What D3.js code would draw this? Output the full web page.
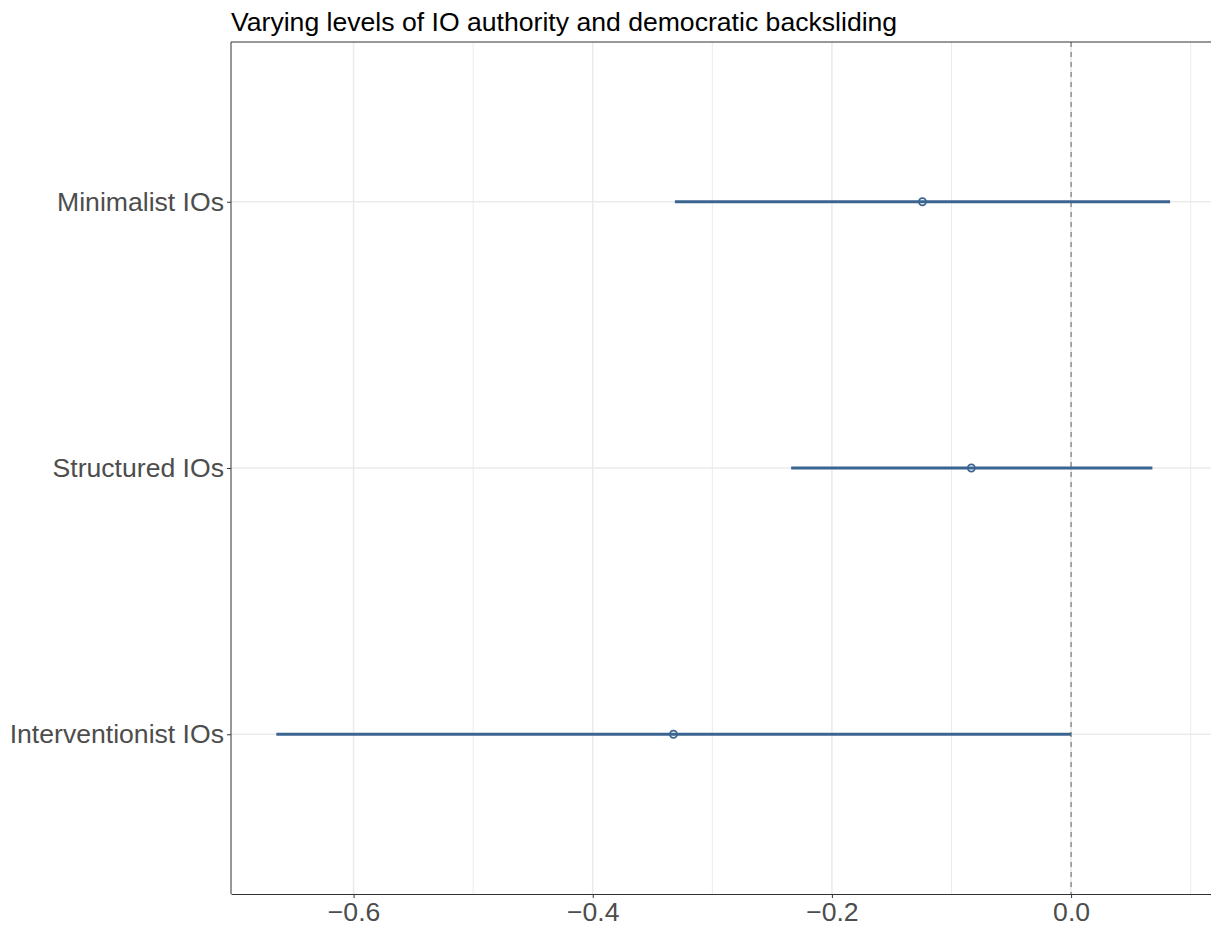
<!DOCTYPE html>
<html>
<head>
<meta charset="utf-8">
<script src="https://cdn.jsdelivr.net/npm/d3@7"></script>
<style>
  body { margin: 0; background: #fff; }
  svg { display: block; font-family: "Liberation Sans", Arial, Helvetica, sans-serif; }
</style>
</head>
<body>
<svg id="drawing_region"></svg>
<script>
// estimates
const categories = ["Minimalist IOs", "Structured IOs", "Interventionist IOs"];
const estimates = [-0.1243, -0.0834, -0.3325];
const lower = [-0.3313, -0.2341, -0.6646];
const upper = [0.0828, 0.0680, 0.0];
const xTicks = [-0.6, -0.4, -0.2, 0.0];
const xMinor = [-0.5, -0.3, -0.1, 0.1];

const data = categories.map((c, i) => ({ label: c, est: estimates[i], lo: lower[i], hi: upper[i] }));

const config = {
    width: 1211,
    height: 927,
    margin: { top: 42, right: 0, bottom: 33, left: 231 }
};

const svg = d3.select('#drawing_region')
    .attr('width', config.width)
    .attr('height', config.height);

const x0 = config.margin.left;
const x1 = config.width - config.margin.right;
const y0 = config.margin.top;
const y1 = config.height - config.margin.bottom;

const x = d3.scaleLinear()
    .domain([-0.7025, 0.117])
    .range([x0, x1]);

const y = d3.scalePoint()
    .domain(categories)
    .range([y0, y1])
    .padding(0.6);

const lineColor = '#3b6591';
const fontSize = '26.6px';

// grid
svg.append('g').selectAll('line')
    .data(xMinor)
    .join('line')
    .attr('x1', d => x(d)).attr('x2', d => x(d))
    .attr('y1', y0).attr('y2', y1)
    .attr('stroke', '#ebebeb').attr('stroke-width', 1);

svg.append('g').selectAll('line')
    .data(xTicks)
    .join('line')
    .attr('x1', d => x(d)).attr('x2', d => x(d))
    .attr('y1', y0).attr('y2', y1)
    .attr('stroke', '#ebebeb').attr('stroke-width', 1.6);

svg.append('g').selectAll('line')
    .data(categories)
    .join('line')
    .attr('x1', x0).attr('x2', x1)
    .attr('y1', d => y(d)).attr('y2', d => y(d))
    .attr('stroke', '#ebebeb').attr('stroke-width', 1.6);

// zero line
svg.append('line')
    .attr('x1', x(0)).attr('x2', x(0))
    .attr('y1', y0).attr('y2', y1)
    .attr('stroke', '#8a8a8a')
    .attr('stroke-width', 1.4)
    .attr('stroke-dasharray', '5,5');

// intervals
svg.append('g').selectAll('line')
    .data(data)
    .join('line')
    .attr('x1', d => x(d.lo)).attr('x2', d => x(d.hi))
    .attr('y1', d => y(d.label)).attr('y2', d => y(d.label))
    .attr('stroke', lineColor)
    .attr('stroke-width', 3);

svg.append('g').selectAll('circle')
    .data(data)
    .join('circle')
    .attr('cx', d => x(d.est))
    .attr('cy', d => y(d.label))
    .attr('r', 3.6)
    .attr('fill', 'none')
    .attr('stroke', lineColor)
    .attr('stroke-width', 1.7);

// panel border (top + left; right lies past the edge)
svg.append('path')
    .attr('d', `M${x1},${y0}H${x0}V${y1}`)
    .attr('fill', 'none')
    .attr('stroke', '#333')
    .attr('stroke-width', 1);

// axes
const xAxis = svg.append('g')
    .attr('transform', `translate(0,${y1})`)
    .call(d3.axisBottom(x).tickValues(xTicks).tickSizeInner(4).tickSizeOuter(0).tickPadding(4)
        .tickFormat(d => d3.format('.1f')(d).replace('-', '\u2212')));
xAxis.select('.domain').attr('stroke', '#333');
xAxis.selectAll('.tick line').attr('stroke', '#333');
xAxis.selectAll('text')
    .attr('fill', '#4d4d4d')
    .attr('font-size', fontSize)
    .attr('dy', '0.71em');

const yAxis = svg.append('g')
    .attr('transform', `translate(${x0},0)`)
    .call(d3.axisLeft(y).tickSizeInner(4).tickSizeOuter(0).tickPadding(3));
yAxis.select('.domain').remove();
yAxis.selectAll('.tick line').attr('stroke', '#333');
yAxis.selectAll('text')
    .attr('fill', '#4d4d4d')
    .attr('font-size', fontSize);

// title
svg.append('text')
    .attr('x', x0)
    .attr('y', 31)
    .attr('font-size', fontSize)
    .attr('fill', '#000')
    .text('Varying levels of IO authority and democratic backsliding');
</script>
</body>
</html>
